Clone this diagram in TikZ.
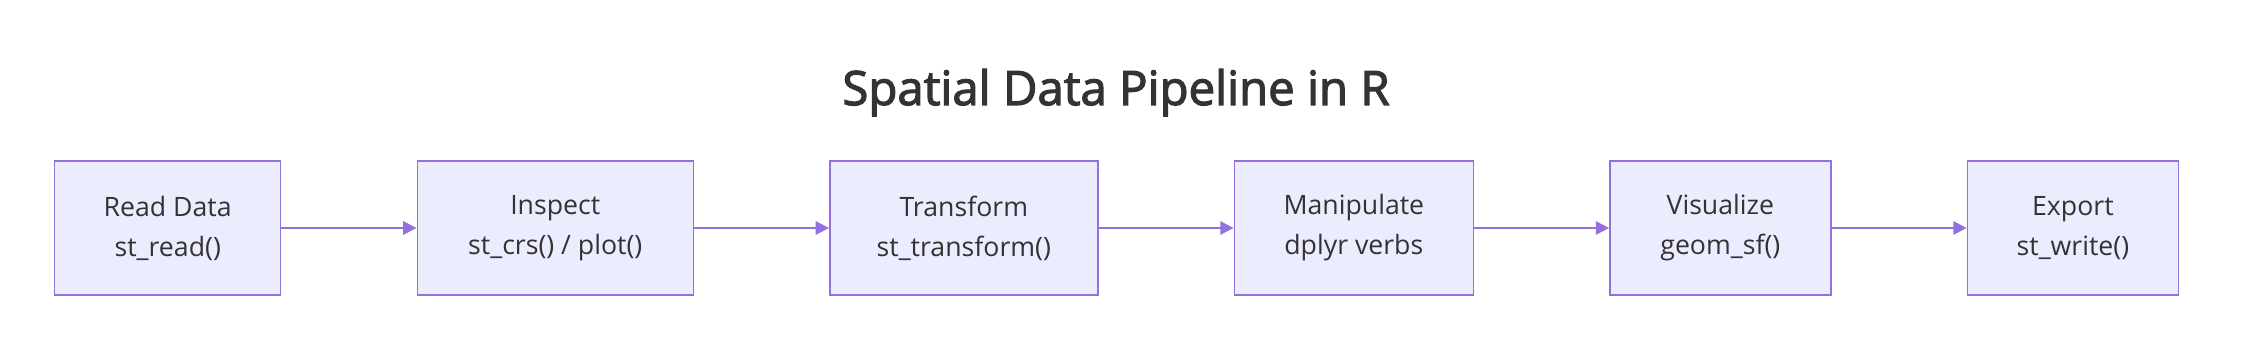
\documentclass[tikz,border=0pt]{standalone}
\usepackage{fontspec}
\setmainfont{Open Sans}
\newfontfamily\titlefont[FakeBold=2.5]{Open Sans}
\usetikzlibrary{arrows.meta, positioning}
\definecolor{stepfill}{HTML}{ECECFF}
\definecolor{stepline}{HTML}{9370DB}
\definecolor{textgray}{HTML}{333333}

\begin{document}
\begin{tikzpicture}[
    x=0.75pt, y=-0.75pt,
    >={Triangle[length=10pt, width=10pt]},
    font=\fontsize{20}{30}\selectfont,
    stage/.style = {rectangle, draw=stepline, fill=stepfill, line width=1.1pt,
                    align=center, text=textgray, minimum height=100.5pt, inner sep=0pt,
                    execute at begin node={\rule{0pt}{25pt}}},
    arr/.style   = {->, line width=1.4pt, stepline},
    heading/.style = {font=\titlefont\fontsize{35.5}{40}\selectfont, text=textgray, inner sep=0pt},
]
\useasboundingbox (0,0) rectangle (2248,352);

% ---------------- title ----------------
\node[heading, anchor=base] (title) at (1116,105) {Spatial Data Pipeline in R};

% ---------------- pipeline ----------------
\node[stage, minimum width=169.5pt, anchor=west] (read) at (54,228) {Read Data\\st\_read()};
\node[stage, minimum width=207pt, right=101.3pt of read] (inspect) {Inspect\\st\_crs() / plot()};
\node[stage, minimum width=201pt, right=101.3pt of inspect] (transform) {Transform\\st\_transform()};
\node[stage, minimum width=179.25pt, right=101.3pt of transform] (manip) {Manipulate\\dplyr verbs};
\node[stage, minimum width=165.75pt, right=101.3pt of manip] (visual) {Visualize\\geom\_sf()};
\node[stage, minimum width=158.25pt, right=101.3pt of visual] (export) {Export\\st\_write()};

\draw[arr] (read) -- (inspect);
\draw[arr] (inspect) -- (transform);
\draw[arr] (transform) -- (manip);
\draw[arr] (manip) -- (visual);
\draw[arr] (visual) -- (export);

\end{tikzpicture}
\end{document}
